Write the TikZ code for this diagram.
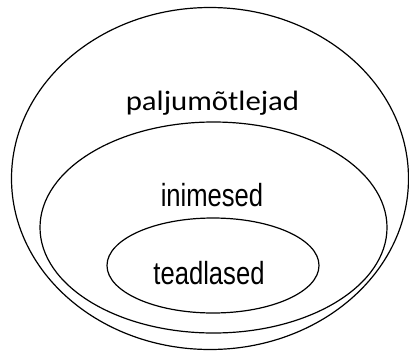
\documentclass[tikz,border=0pt]{standalone}
\usepackage{fontspec}
\setmainfont{Liberation Sans}
\newfontfamily\calfont{Carlito}
\usetikzlibrary{shapes.geometric}
\begin{document}
\begin{tikzpicture}[x=1pt,y=-1pt]
\tikzstyle{set}=[draw, ellipse, inner sep=0pt, line width=1.2pt]
\tikzstyle{every node}+=[inner sep=0pt]
\tikzstyle{lbl}=[anchor=base, font=\fontsize{32}{32}\selectfont, xscale=0.8]
\useasboundingbox (0,0) rectangle (409,351);
\node [set, minimum width=397pt, minimum height=342pt] (outer) at (210,178.5) {};
\node [set, minimum width=347pt, minimum height=211pt] (middle) at (213.5,227.5) {};
\node [set, minimum width=212pt, minimum height=95pt] (inner) at (213,265.5) {};

\node [anchor=base, font=\calfont\fontsize{28}{28}\selectfont, xscale=1.1] (mots) at (212.5,110) {paljumõtlejad};
\node [lbl] (inim) at (212,206.5) {inimesed};
\node [lbl] (tead) at (209,284.3) {teadlased};
\end{tikzpicture}
\end{document}
